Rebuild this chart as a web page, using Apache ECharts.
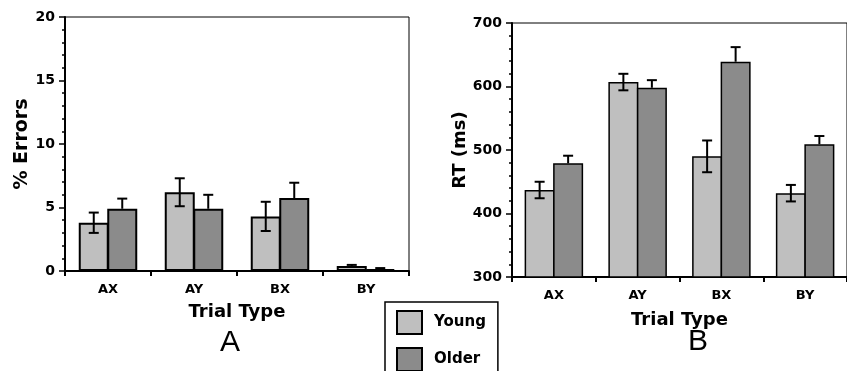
<!DOCTYPE html>
<html>
<head>
<meta charset="utf-8">
<script src="https://cdn.jsdelivr.net/npm/echarts@6/dist/echarts.min.js"></script>
<style>
  html, body { margin: 0; padding: 0; background: #fff; }
  #chart { width: 847px; height: 371px; }
</style>
</head>
<body>
<div id="chart"></div>
<script>
// 数据
const categories = ['AX', 'AY', 'BX', 'BY'];

// A: % Errors
const errYoung = [3.8, 6.2, 4.3, 0.4];
const errYoungSE = [0.8, 1.1, 1.15, 0.08];
const errOlder = [4.9, 4.9, 5.75, 0.15];
const errOlderSE = [0.8, 1.1, 1.2, 0.08];

// B: RT (ms)
const rtYoung = [437, 607, 490, 432];
const rtYoungSE = [13, 13, 25, 13];
const rtOlder = [479, 598, 639, 509];
const rtOlderSE = [12, 12, 23, 13];

const lightGray = '#bfbfbf';
const darkGray = '#8b8b8b';
const font = 'DejaVu Sans';
const BAR_W = 30;
const GAP = -0.05; // 两个柱子共用边框
const HALF = BAR_W * (1 + GAP) / 2;

const myChart = echarts.init(document.getElementById('chart'));

// 误差线
function errorSeries(name, means, ses, gridIdx, side, both) {
  return {
    type: 'custom',
    name: name,
    xAxisIndex: gridIdx,
    yAxisIndex: gridIdx,
    z: 10,
    silent: true,
    data: means.map((m, i) => [i, m, ses[i]]),
    renderItem: function (params, api) {
      const i = api.value(0), m = api.value(1), e = api.value(2);
      const top = api.coord([i, m + e]);
      const mid = api.coord([i, m]);
      const bot = api.coord([i, m - e]);
      const x = top[0] + side * HALF;
      const y2 = both ? bot[1] : mid[1];
      const style = { stroke: '#000', lineWidth: 2 };
      const children = [
        { type: 'line', shape: { x1: x, y1: top[1], x2: x, y2: y2 }, style: style },
        { type: 'line', shape: { x1: x - 5, y1: top[1], x2: x + 5, y2: top[1] }, style: style }
      ];
      if (both) {
        children.push({ type: 'line', shape: { x1: x - 5, y1: bot[1], x2: x + 5, y2: bot[1] }, style: style });
      }
      return { type: 'group', children: children };
    }
  };
}

function barSeries(name, data, gridIdx, color, bw) {
  return {
    type: 'bar',
    name: name,
    xAxisIndex: gridIdx,
    yAxisIndex: gridIdx,
    barWidth: BAR_W,
    barGap: (GAP * 100) + '%',
    data: data,
    itemStyle: { color: color, borderColor: '#000', borderWidth: bw }
  };
}

function xAxisOpt(gridIdx, gap) {
  return {
    type: 'category',
    gridIndex: gridIdx,
    data: categories,
    name: 'Trial Type',
    nameLocation: 'middle',
    nameGap: gap,
    nameTextStyle: { fontFamily: font, fontWeight: 'bold', fontSize: 18, color: '#000' },
    axisLine: { lineStyle: { color: '#000', width: 2 } },
    axisTick: { show: true, length: 5, lineStyle: { color: '#000', width: 2 } },
    axisLabel: { fontFamily: font, fontWeight: 'bold', fontSize: 13, color: '#000', margin: 12 }
  };
}

function yAxisOpt(gridIdx, name, min, max, interval, gap, size) {
  return {
    type: 'value',
    gridIndex: gridIdx,
    min: min,
    max: max,
    interval: interval,
    name: name,
    nameLocation: 'middle',
    nameRotate: 90,
    nameGap: gap,
    nameTextStyle: { fontFamily: font, fontWeight: 'bold', fontSize: size, color: '#000' },
    splitLine: { show: false },
    axisLine: { show: true, lineStyle: { color: '#000', width: 2 } },
    axisTick: { show: true, length: 6, lineStyle: { color: '#000', width: 1.5 } },
    minorTick: { show: true, splitNumber: 5, length: 3, lineStyle: { color: '#000', width: 1.5 } },
    axisLabel: { fontFamily: font, fontWeight: 'bold', fontSize: 14, color: '#000', margin: 10 }
  };
}

myChart.setOption({
  backgroundColor: '#fff',
  animation: false,
  grid: [
    { left: 65, top: 17, width: 344, height: 254, show: true, borderColor: '#000', borderWidth: 1 },
    { left: 512, top: 23, width: 346, height: 254, show: true, borderColor: '#000', borderWidth: 1 }
  ],
  xAxis: [xAxisOpt(0, 32), xAxisOpt(1, 34)],
  yAxis: [
    yAxisOpt(0, '% Errors', 0, 20, 5, 28, 19),
    yAxisOpt(1, 'RT (ms)', 300, 700, 100, 40, 18)
  ],
  legend: {
    data: ['Young', 'Older'],
    orient: 'vertical',
    left: 385,
    top: 302,
    height: 62,
    padding: [8, 12, 12, 11],
    itemWidth: 25,
    itemHeight: 23,
    itemGap: 12,
    icon: 'rect',
    borderColor: '#000',
    borderWidth: 1.5,
    itemStyle: { borderColor: '#000', borderWidth: 2 },
    textStyle: { fontFamily: font, fontWeight: 'bold', fontSize: 15, color: '#000', padding: [0, 0, 0, 7] }
  },
  graphic: [
    { type: 'text', left: 220, top: 328, style: { text: 'A', font: '30px "Liberation Sans"', fill: '#000' } },
    { type: 'text', left: 688, top: 327, style: { text: 'B', font: '30px "Liberation Sans"', fill: '#000' } }
  ],
  series: [
    barSeries('Young', errYoung, 0, lightGray, 2),
    barSeries('Older', errOlder, 0, darkGray, 2),
    barSeries('Young', rtYoung, 1, lightGray, 1.5),
    barSeries('Older', rtOlder, 1, darkGray, 1.5),
    errorSeries('errYoungA', errYoung, errYoungSE, 0, -1, true),
    errorSeries('errOlderA', errOlder, errOlderSE, 0, 1, false),
    errorSeries('errYoungB', rtYoung, rtYoungSE, 1, -1, true),
    errorSeries('errOlderB', rtOlder, rtOlderSE, 1, 1, false)
  ]
});
</script>
</body>
</html>
